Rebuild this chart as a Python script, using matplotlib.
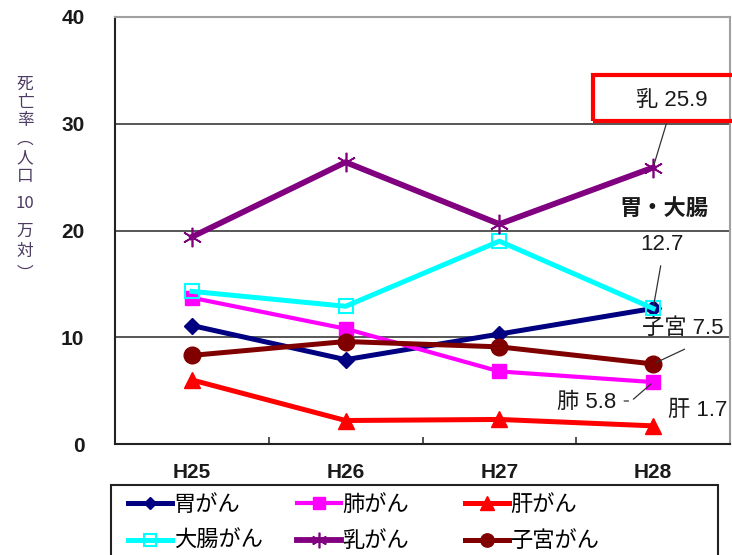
import matplotlib
matplotlib.use("Agg")
import matplotlib.pyplot as plt
from matplotlib.patches import Rectangle

plt.rcParams['font.family'] = ['Noto Sans CJK JP', 'DejaVu Sans']

years = ["H25", "H26", "H27", "H28"]
stomach = [11.1, 7.9, 10.3, 12.7]     # 胃がん
lung = [13.7, 10.8, 6.8, 5.8]         # 肺がん
liver = [6.0, 2.2, 2.3, 1.7]          # 肝がん
colon = [14.3, 12.9, 19.0, 12.7]      # 大腸がん
breast = [19.4, 26.4, 20.6, 25.9]     # 乳がん
uterus = [8.3, 9.6, 9.1, 7.5]         # 子宮がん
series_labels = ["胃がん", "肺がん", "肝がん", "大腸がん", "乳がん", "子宮がん"]
y_ticks = [0, 10, 20, 30, 40]

W, H = 732, 555
fig = plt.figure(figsize=(W / 100, H / 100), dpi=100)
ax = fig.add_axes([115 / W, 1 - 444 / H, (730 - 115) / W, (444 - 17) / H])

x = list(range(len(years)))
asterisk = (6, 2, 0)
styles = [
    (stomach, dict(color="#000080", marker="D", ms=8, lw=3.6)),
    (lung, dict(color="#FF00FF", marker="s", ms=10, lw=3.0)),
    (liver, dict(color="#FF0000", marker="^", ms=12, lw=3.6)),
    (colon, dict(color="#00FFFF", marker="s", ms=10, lw=3.6, mfc="none", mew=1.5)),
    (breast, dict(color="#800080", marker=asterisk, ms=14, lw=4.2, mew=1.2)),
    (uterus, dict(color="#800000", marker="o", ms=12, lw=3.6)),
]
handles = []
for (vals, st), lab in zip(styles, series_labels):
    h, = ax.plot(x, vals, label=lab, zorder=3, **st)
    handles.append(h)

ax.set_xlim(-0.5, 3.5)
ax.set_ylim(0, 40)
ax.set_yticks(y_ticks)
ax.set_xticks(x)
ax.set_xticklabels(years)
ax.set_xticks([0.5, 1.5, 2.5], minor=True)
ax.tick_params(axis="x", which="major", length=0, pad=14)
ax.tick_params(axis="x", which="minor", direction="in", length=5, width=1.2, color="#333333")
ax.tick_params(axis="y", length=0, pad=22)
for lab in ax.get_xticklabels() + ax.get_yticklabels():
    lab.set_fontfamily("Liberation Sans")
    lab.set_fontweight("bold")
    lab.set_fontsize(15)
    lab.set_color("#1a1a1a")

ax.grid(axis="y", color="#3a3a3a", lw=1.2, zorder=1)
for side in ("left", "bottom"):
    ax.spines[side].set_color("#222222")
    ax.spines[side].set_linewidth(1.5)
for side in ("top", "right"):
    ax.spines[side].set_color("#a0a0a0")
    ax.spines[side].set_linewidth(1.5)


def px(xp, yp):
    """Convert figure pixel position (from top-left) to data coordinates."""
    return ((xp - 191) / 154.3, (444 - yp) / 10.675)


line_kw = dict(arrowstyle="-", color="#333333", lw=0.9)
txt_kw = dict(fontsize=16, color="#1a1a1a", annotation_clip=False,
              family=["Liberation Sans", "Noto Sans CJK JP"])

# breast value callout with framed label
ax.annotate("", xy=(3, breast[3]), xytext=px(668, 121), arrowprops=line_kw)
ax.annotate("乳 25.9", xy=px(673, 100), ha="center", va="center", **txt_kw)
fig.add_artist(Rectangle((593 / W, 1 - 121 / H), 160 / W, 46 / H, fill=False,
                         ec="#FF0000", lw=3, transform=fig.transFigure, clip_on=False))

ax.annotate("胃・大腸", xy=px(665, 209), ha="center", va="center",
            fontweight="bold", **txt_kw)
ax.annotate("12.7", xy=px(663, 244), ha="center", va="center", **txt_kw)
ax.annotate("", xy=(3, stomach[3]), xytext=px(662, 263), arrowprops=line_kw)

ax.annotate("子宮 7.5", xy=px(643, 328), ha="left", va="center", **txt_kw)
ax.annotate("", xy=(3, uterus[3]), xytext=px(688, 348), arrowprops=line_kw)

ax.annotate("肺 5.8", xy=px(617, 402), ha="right", va="center", **txt_kw)
ax.annotate("", xy=(3, lung[3]), xytext=px(632, 401), arrowprops=line_kw)
ax.annotate("", xy=px(632, 401), xytext=px(622, 401), arrowprops=line_kw)

ax.annotate("肝 1.7", xy=px(669, 410), ha="left", va="center", **txt_kw)

# vertical y-axis title
ylab_chars = [("死", 84), ("亡", 102), ("率", 120), ("︵", 139), ("人", 158),
              ("口", 176), ("10", 204), ("万", 231), ("対", 251), ("︶", 274)]
for ch, yp in ylab_chars:
    fig.text(25 / W, 1 - yp / H, ch, ha="center", va="center", fontsize=12,
             color="#4b3b63")

# legend in three columns inside a framed box
fig.add_artist(Rectangle((111 / W, -10 / H), (718 - 111) / W, (555 - 485 + 10) / H,
                         fill=False, ec="#222222", lw=1.5, transform=fig.transFigure,
                         clip_on=False))
col_x = [128, 297, 465]
for i, cx in enumerate(col_x):
    hs = [handles[i], handles[i + 3]]
    fig.legend(hs, [h.get_label() for h in hs], loc="upper left",
               bbox_to_anchor=(cx / W, 1 - 493 / H), frameon=False, fontsize=16,
               handlelength=2.0, handletextpad=0.05, labelspacing=0.6,
               borderpad=0, borderaxespad=0, markerscale=0.8)

fig.savefig("out.png", dpi=100)
